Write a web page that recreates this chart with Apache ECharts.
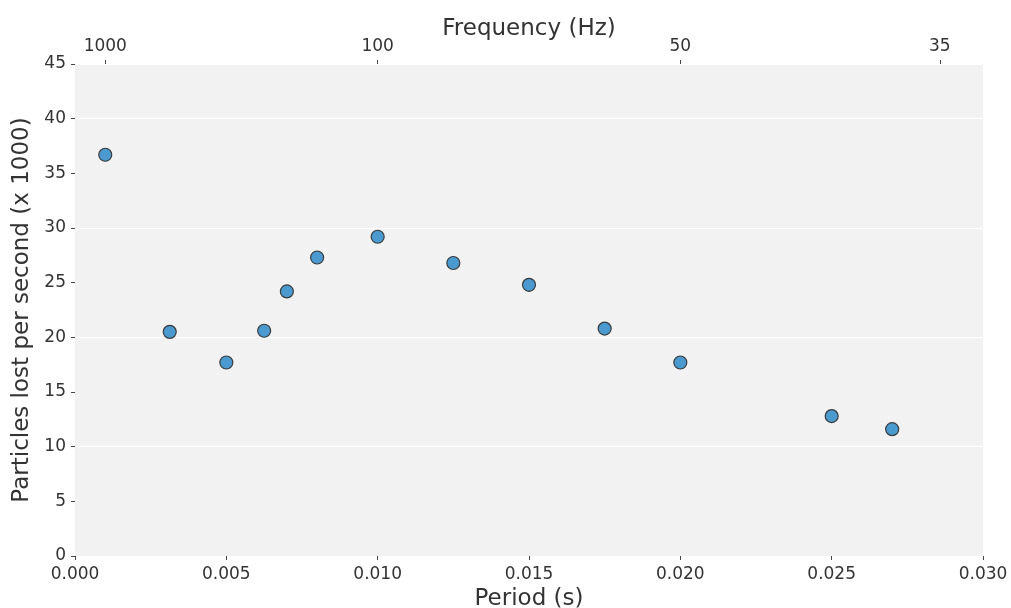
<!DOCTYPE html>
<html><head><meta charset="utf-8">
<script src="https://cdn.jsdelivr.net/npm/echarts@6/dist/echarts.min.js"></script>
<style>html,body{margin:0;padding:0;background:#fff}#c{width:1011px;height:608px}</style>
</head><body><div id="c"></div>
<script>
const periods = [0.001, 0.00313, 0.005, 0.00625, 0.007, 0.008, 0.010, 0.0125, 0.015, 0.0175, 0.020, 0.025, 0.027];
const lossRates = [36.7, 20.5, 17.7, 20.6, 24.2, 27.3, 29.2, 26.8, 24.8, 20.8, 17.7, 12.8, 11.6];
const freqTicks = [1000, 100, 50, 35];

const font = '"DejaVu Sans", sans-serif';
const txt = '#333';
const tickLine = {show: true, inside: false, length: 4, lineStyle: {color: '#444', width: 1}};
const hiddenLine = {show: true, onZero: false, lineStyle: {color: 'rgba(0,0,0,0)'}};
const chart = echarts.init(document.getElementById('c'));
chart.setOption({
  animation: false,
  grid: {left: 75, right: 28, top: 64, bottom: 52, show: true, backgroundColor: '#f1f2f1', borderWidth: 0, outerBoundsMode: 'none', containLabel: false},
  xAxis: [{
    type: 'value', min: 0, max: 0.03, interval: 0.005, position: 'bottom',
    name: 'Period (s)', nameLocation: 'middle', nameGap: 31,
    nameTextStyle: {fontFamily: font, fontSize: 23, color: txt},
    axisLine: hiddenLine,
    axisTick: tickLine,
    axisLabel: {fontFamily: font, fontSize: 17, color: txt, margin: 10, formatter: v => v.toFixed(3)},
    splitLine: {show: false}
  }, {
    type: 'value', min: 0, max: 0.03, position: 'top',
    name: 'Frequency (Hz)', nameLocation: 'middle', nameGap: 23, nameMoveOverlap: false,
    nameTextStyle: {fontFamily: font, fontSize: 23, color: txt},
    axisLine: hiddenLine,
    axisTick: Object.assign({}, tickLine, {customValues: freqTicks.map(f => 1 / f)}),
    axisLabel: {fontFamily: font, fontSize: 17, color: txt, margin: 9, customValues: freqTicks.map(f => 1 / f), formatter: v => String(Math.round(1 / v))},
    splitLine: {show: false}
  }],
  yAxis: [{
    type: 'value', min: 0, max: 45, interval: 5, position: 'left',
    name: 'Particles lost per second (x 1000)', nameLocation: 'middle', nameGap: 41,
    nameTextStyle: {fontFamily: font, fontSize: 23, color: txt},
    axisLine: hiddenLine,
    axisTick: tickLine,
    axisLabel: {fontFamily: font, fontSize: 17, color: txt, margin: 9},
    splitLine: {show: false}
  }, {
    type: 'value', min: 0, max: 45, interval: 10, position: 'left',
    axisLine: {show: false, onZero: false}, axisTick: {show: false}, axisLabel: {show: false},
    splitLine: {show: true, lineStyle: {color: '#ffffff', width: 1}}
  }],
  series: [{
    type: 'scatter', xAxisIndex: 0, yAxisIndex: 0,
    data: periods.map((p, i) => [p, lossRates[i]]),
    symbolSize: 13,
    itemStyle: {color: '#4a9ad0', borderColor: '#3a3a3a', borderWidth: 1.2, opacity: 1}
  }]
});
</script></body></html>
